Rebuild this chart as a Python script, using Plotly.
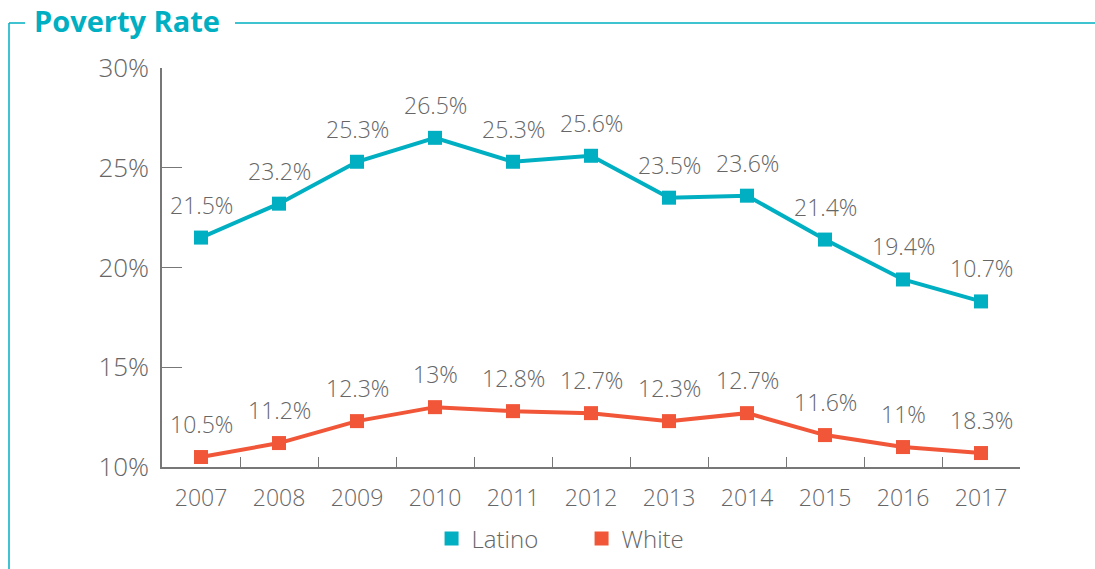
import plotly.graph_objects as go

years = ['2007', '2008', '2009', '2010', '2011', '2012', '2013', '2014', '2015', '2016', '2017']
latino = [21.5, 23.2, 25.3, 26.5, 25.3, 25.6, 23.5, 23.6, 21.4, 19.4, 18.3]
white = [10.5, 11.2, 12.3, 13.0, 12.8, 12.7, 12.3, 12.7, 11.6, 11.0, 10.7]
# labels as printed in the source (last two are swapped there)
latino_labels = ['21.5%', '23.2%', '25.3%', '26.5%', '25.3%', '25.6%', '23.5%', '23.6%', '21.4%', '19.4%', '10.7%']
white_labels = ['10.5%', '11.2%', '12.3%', '13%', '12.8%', '12.7%', '12.3%', '12.7%', '11.6%', '11%', '18.3%']

TEAL = '#00AFC1'
RED = '#F15638'
GREY = '#666666'
FONT = 'Open Sans'

fig = go.Figure()

for vals, labels, color in [(latino, latino_labels, TEAL), (white, white_labels, RED)]:
    fig.add_trace(go.Scatter(x=years, y=vals, mode='lines+markers', showlegend=False,
                             line=dict(color=color, width=4),
                             marker=dict(symbol='square', size=14, color=color)))
    # on a category axis numeric-looking strings are read as indices, so use the index
    for i, (v, lbl) in enumerate(zip(vals, labels)):
        fig.add_annotation(x=i, y=v, text=lbl, showarrow=False, yshift=33,
                           font=dict(family=FONT, size=23, color=GREY, weight=300))

# legend entries: squares only
for name, color in [('Latino', TEAL), ('White', RED)]:
    fig.add_trace(go.Scatter(x=[None], y=[None], mode='markers', name=name,
                             marker=dict(symbol='square', size=14, color=color)))

# frame around the chart
px = lambda v: (v - 162) / 858
py = lambda v: (467 - v) / 399
frame = dict(color=TEAL, width=1.5)
fig.add_shape(type='line', xref='paper', yref='paper', x0=px(9), x1=px(9), y0=py(23), y1=py(575), line=frame)
fig.add_shape(type='line', xref='paper', yref='paper', x0=px(9), x1=px(25), y0=py(23), y1=py(23), line=frame)
fig.add_shape(type='line', xref='paper', yref='paper', x0=px(235), x1=px(1100), y0=py(23), y1=py(23), line=frame)

fig.update_layout(
    width=1095, height=569,
    margin=dict(l=162, r=75, t=68, b=102, autoexpand=False),
    plot_bgcolor='white', paper_bgcolor='white',
    font=dict(family=FONT, color=GREY, weight=300),
    title=dict(text='<b>Poverty Rate</b>', x=34 / 1095, xanchor='left', y=1 - 22 / 569, yanchor='middle',
               font=dict(family=FONT, size=29, color=TEAL, weight=600)),
    xaxis=dict(type='category', range=[-0.5, 10.5], showgrid=False, showline=True,
               linecolor='#777777', linewidth=1.5,
               ticks='inside', ticklen=10, tickcolor='#777777', tickson='boundaries',
               tickfont=dict(size=23, color=GREY, weight=300), ticklabelstandoff=10),
    yaxis=dict(range=[10, 30], dtick=5, ticksuffix='%', showgrid=False, zeroline=False,
               showline=True, linecolor='#777777', linewidth=1.5,
               ticks='inside', ticklen=20, tickcolor='#777777',
               tickfont=dict(size=26, color=GREY, weight=300), ticklabelstandoff=6),
    legend=dict(orientation='h', x=0.489, xanchor='center', y=-0.18, yanchor='middle',
                font=dict(size=24, color=GREY, weight=300), entrywidth=105),
)

fig.write_html('out.html', config={'displayModeBar': False},
               post_script="document.body.style.margin='0';")
